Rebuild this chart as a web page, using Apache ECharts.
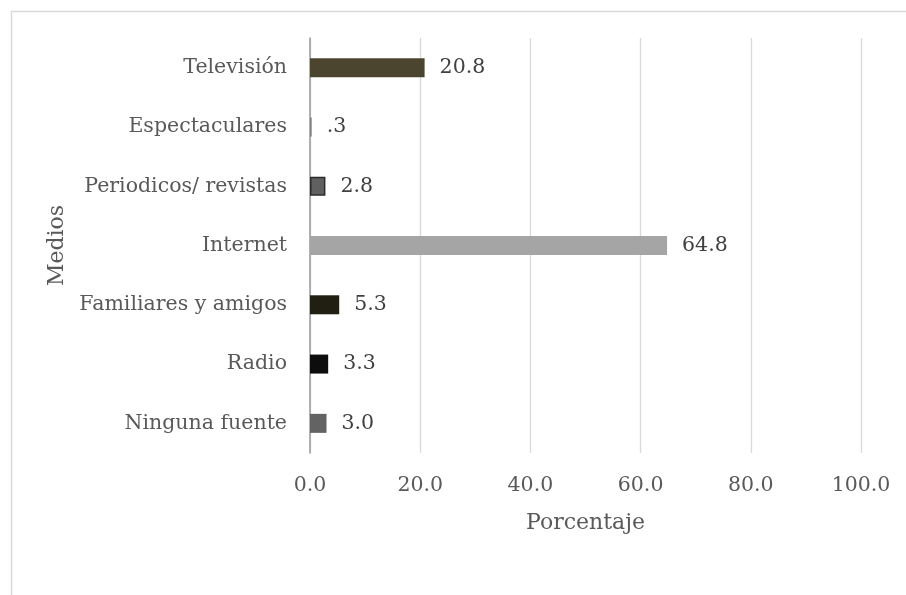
<!DOCTYPE html>
<html>
<head>
<meta charset="utf-8">
<script src="https://cdn.jsdelivr.net/npm/echarts@6/dist/echarts.min.js"></script>
<style>
  html, body { margin: 0; padding: 0; background: #ffffff; }
  #chart { width: 906px; height: 595px; }
</style>
</head>
<body>
<div id="chart"></div>
<script>
// Data (top-to-bottom order as shown)
const categories = ['Televisión', 'Espectaculares', 'Periodicos/ revistas', 'Internet', 'Familiares y amigos', 'Radio', 'Ninguna fuente'];
const values = [20.8, 0.3, 2.8, 64.8, 5.3, 3.3, 3.0];
const barColors = ['#4b4530', '#7f7f7f', '#606060', '#a5a5a5', '#211e12', '#0d0d0d', '#636363'];
const barBorders = [null, null, '#2b2b2b', null, null, null, null];
const xTicks = [0, 20, 40, 60, 80, 100];
const xTickLabels = ['0.0', '20.0', '40.0', '60.0', '80.0', '100.0'];
const xTitle = 'Porcentaje';
const yTitle = 'Medios';

const FONT = '"DejaVu Serif", serif';
const TXT = '#595959';

const chart = echarts.init(document.getElementById('chart'), null, { renderer: 'canvas' });

const seriesData = values.map((v, i) => {
  const item = { value: v, itemStyle: { color: barColors[i] } };
  if (barBorders[i]) { item.itemStyle.borderColor = barBorders[i]; item.itemStyle.borderWidth = 1.5; }
  return item;
});

function fmtVal(v) {
  let s = v.toFixed(1);
  if (v < 1 && v > 0) s = s.replace(/^0/, '');
  return s;
}

chart.setOption({
  backgroundColor: '#ffffff',
  animation: false,
  graphic: [{
    type: 'rect', left: 9, top: 9, z: -10,
    shape: { width: 1000, height: 1000 },
    style: { fill: 'none', stroke: '#d9d9d9', lineWidth: 1.5 }
  }],
  grid: { left: 310, right: 45, top: 38, bottom: 142, containLabel: false },
  xAxis: {
    type: 'value', min: 0, max: 100, interval: 20,
    axisLine: { show: false }, axisTick: { show: false },
    splitLine: { show: true, lineStyle: { color: '#d9d9d9', width: 1.3 } },
    axisLabel: {
      margin: 22, fontFamily: FONT, fontSize: 20.5, color: TXT,
      formatter: v => xTickLabels[xTicks.indexOf(v)] ?? v.toFixed(1)
    },
    name: xTitle, nameLocation: 'middle', nameGap: 59,
    nameTextStyle: { fontFamily: FONT, fontSize: 22, color: TXT }
  },
  yAxis: {
    type: 'category', data: categories, inverse: true,
    axisLine: { show: true, lineStyle: { color: '#9a9a9a', width: 1.5 } },
    axisTick: { show: false },
    splitLine: { show: false },
    axisLabel: { margin: 23, fontFamily: FONT, fontSize: 20.5, color: TXT },
    name: yTitle, nameLocation: 'middle', nameGap: 240, nameRotate: 90,
    nameTextStyle: { fontFamily: FONT, fontSize: 22, color: TXT }
  },
  series: [{
    type: 'bar', data: seriesData, barWidth: 19,
    label: {
      show: true, position: 'right', distance: 15,
      fontFamily: FONT, fontSize: 20.5, color: '#404040',
      formatter: p => fmtVal(p.value)
    }
  }]
});
</script>
</body>
</html>
